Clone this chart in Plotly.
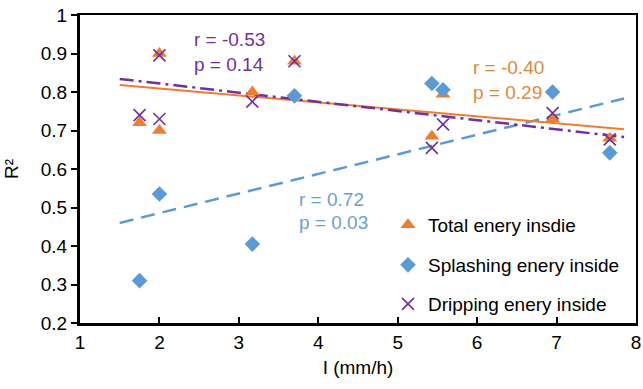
import numpy as np
import plotly.graph_objects as go

# ---- data ----
intensity = [1.75, 2.0, 2.0, 3.17, 3.7, 5.43, 5.57, 6.95, 7.67]
total_r2 = [0.72, 0.70, 0.90, 0.80, 0.88, 0.685, 0.794, 0.73, 0.68]
splash_x = [1.75, 2.0, 3.17, 3.7, 5.43, 5.57, 6.95, 7.67]
splash_r2 = [0.31, 0.535, 0.405, 0.79, 0.822, 0.806, 0.80, 0.642]
drip_r2 = [0.74, 0.73, 0.895, 0.775, 0.88, 0.655, 0.716, 0.745, 0.677]

# trend lines (intercept at x=0, slope) and x-extent
trend_x = [1.5, 7.85]
total_fit = [0.8455, -0.0181]
splash_fit = [0.3836, 0.0509]
drip_fit = [0.8697, -0.0238]

legend_names = ["Total enery insdie", "Splashing enery inside", "Dripping enery inside"]

ORANGE = "#ED7D31"
BLUE = "#5B9BD5"
PURPLE = "#7030A0"
FONT = "Liberation Sans, Arial, sans-serif"

tx = np.array(trend_x)
fig = go.Figure()

fig.add_trace(go.Scatter(x=tx, y=splash_fit[0] + splash_fit[1] * tx, mode="lines",
                         line=dict(color=BLUE, width=2.5, dash="14px,8px"),
                         showlegend=False, hoverinfo="skip"))
fig.add_trace(go.Scatter(x=tx, y=total_fit[0] + total_fit[1] * tx, mode="lines",
                         line=dict(color=ORANGE, width=2),
                         showlegend=False, hoverinfo="skip"))
fig.add_trace(go.Scatter(x=tx, y=drip_fit[0] + drip_fit[1] * tx, mode="lines",
                         line=dict(color=PURPLE, width=2.5, dash="14px,5px,3px,5px"),
                         showlegend=False, hoverinfo="skip"))

fig.add_trace(go.Scatter(x=intensity, y=total_r2, mode="markers", name=legend_names[0],
                         marker=dict(symbol="triangle-up", size=13, color=ORANGE),
                         legend="legend"))
fig.add_trace(go.Scatter(x=splash_x, y=splash_r2, mode="markers", name=legend_names[1],
                         marker=dict(symbol="diamond", size=12, color=BLUE),
                         legend="legend2"))
fig.add_trace(go.Scatter(x=intensity, y=drip_r2, mode="markers", name=legend_names[2],
                         marker=dict(symbol="x-thin", size=12, color=PURPLE,
                                     line=dict(color=PURPLE, width=1.6)),
                         legend="legend3"))
# empty trace so that the top/right frame axes are drawn
fig.add_trace(go.Scatter(x=[None], y=[None], xaxis="x2", yaxis="y2", mode="markers",
                         showlegend=False, hoverinfo="skip"))

# the page body margin is removed (see post_script), so the figure fills the window
W, H = 643, 389
PL, PR, PT, PB = 80, 636, 15, 323          # plot area in window pixels
ml, mt = PL, PT
mr, mb = W - PR, H - PB
pw, ph = PR - PL, PB - PT

def py(ypix):
    return (PB - ypix) / ph

def px(xpix):
    return (xpix - PL) / pw

def leg(y):
    return dict(x=px(388), y=y, xanchor="left", yanchor="middle",
                bgcolor="rgba(0,0,0,0)",
                font=dict(family=FONT, size=19, color="#000"), itemwidth=30,
                tracegroupgap=0)

frame = dict(showgrid=False, zeroline=False, showticklabels=False, ticks="",
             showline=True, linecolor="#000", linewidth=1.5, automargin=False)

fig.update_layout(
    width=W, height=H, margin=dict(l=ml, r=mr, t=mt, b=mb, autoexpand=False),
    paper_bgcolor="white", plot_bgcolor="white",
    font=dict(family=FONT, size=19, color="#000"),
    legend=leg(py(225)), legend2=leg(py(265)), legend3=leg(py(304)),
    xaxis=dict(range=[1, 8], dtick=1, tick0=1, showgrid=False, zeroline=False,
               showline=True, linecolor="#000", linewidth=2.5, automargin=False,
               ticklabeloverflow="allow",
               ticks="inside", ticklen=6, tickwidth=1.5, tickcolor="#000",
               title=dict(text="I (mm/h)", font=dict(size=19), standoff=10)),
    yaxis=dict(range=[0.2, 1.0], dtick=0.1, tick0=0.2, showgrid=False, zeroline=False,
               showline=True, linecolor="#000", linewidth=3, automargin=False,
               ticklabeloverflow="allow",
               ticks="outside", ticklen=6, tickwidth=1.5, tickcolor="#000",
               title=dict(text="R²", font=dict(size=19), standoff=18)),
    xaxis2=dict(frame, overlaying="x", side="top", anchor="y2", range=[1, 8]),
    yaxis2=dict(frame, overlaying="y", side="right", anchor="x2", range=[0.2, 1.0]),
)

def note(x, y, text, color):
    fig.add_annotation(x=x, y=y, xref="x", yref="y", text=text, showarrow=False,
                       xanchor="left", yanchor="middle",
                       font=dict(family=FONT, size=19, color=color))

note(2.41, 0.936, "r = -0.53", PURPLE)
note(2.41, 0.871, "p = 0.14", PURPLE)
note(5.92, 0.864, "r = -0.40", "#E0883A")
note(5.92, 0.799, "p = 0.29", "#E0883A")
note(3.73, 0.521, "r = 0.72", "#6A9FCF")
note(3.73, 0.461, "p = 0.03", "#6A9FCF")

fig.write_html("out.html", config={"displayModeBar": False},
               post_script="document.body.style.margin='0';"
                           "document.body.style.overflow='hidden';")
